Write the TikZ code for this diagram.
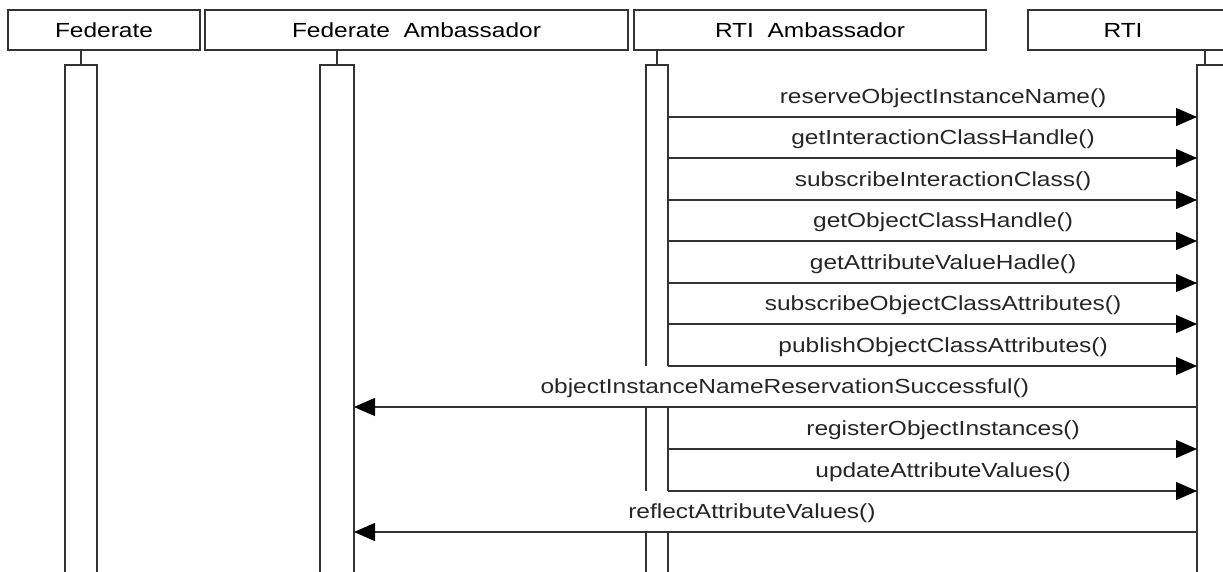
\documentclass[tikz,border=0pt]{standalone}
\usepackage{fontspec}
\setmainfont[FakeStretch=1.2]{Liberation Sans}
\usetikzlibrary{arrows.meta,positioning}

\tikzset{
  lane/.style={line width=1.3pt, draw=black!80},
  hdr/.style={lane, minimum height=40pt, inner sep=0pt},
  msg/.style={lane, -{Triangle[length=21pt,width=18pt,color=black]}},
  lbl/.style={above=7pt, inner sep=2pt, text=black!85},
}

\begin{document}
\begin{tikzpicture}[x=1pt, y=-1pt, font=\fontsize{20.4pt}{24pt}\selectfont]
  \useasboundingbox (0,0) rectangle (1223,571);

  % object headers
  \node[hdr, minimum width=192pt] (fed) at (104,30) {Federate};
  \node[hdr, minimum width=423pt] (fedamb) at (416.5,30) {Federate\ \ Ambassador};
  \node[hdr, minimum width=352pt] (rtiamb) at (810,30) {RTI\ \ Ambassador};
  \draw[lane] (1028,10) rectangle (1240,50);
  \node (rti) at (1123,30) {RTI};

  % activation tops
  \coordinate (fedtop) at (81,65);
  \coordinate (fedambtop) at (337,65);
  \coordinate (rtiambtop) at (657,65);
  \coordinate (rtitop) at (1205,65);
  \draw[lane] (fedtop |- fed.south) -- (fedtop);
  \draw[lane] (fedambtop |- fedamb.south) -- (fedambtop);
  \draw[lane] (rtiambtop |- rtiamb.south) -- (rtiambtop);
  \draw[lane] (rtitop |- 0,50) -- (rtitop);

  % activation edges
  \coordinate (fedambR) at (354,0);
  \coordinate (rtiambR) at (668,0);
  \coordinate (rtiL) at (1197,0);
  \draw[lane] (65,575) -- (65,65) -- (97,65) -- (97,575);
  \draw[lane] (320,575) -- (320,65) -- (354,65) -- (354,575);
  \draw[lane] (646,366) -- (646,65) -- (668,65) -- (668,366);
  \draw[lane] (646,407) -- (646,491) (668,407) -- (668,491);
  \draw[lane] (646,532) -- (646,575) (668,532) -- (668,575);
  \draw[lane] (1240,65) -- (1197,65) -- (1197,575);

  % calls to the RTI
  \foreach \y/\txt in {117/reserveObjectInstanceName(),
                       158/getInteractionClassHandle(),
                       200/subscribeInteractionClass(),
                       241/getObjectClassHandle(),
                       283/getAttributeValueHadle(),
                       324/subscribeObjectClassAttributes(),
                       366/publishObjectClassAttributes(),
                       449/registerObjectInstances(),
                       491/updateAttributeValues()}
    \draw[msg] (rtiambR |- 0,\y) -- node[lbl, pos=.52] {\txt} (rtiL |- 0,\y);

  % callbacks
  \draw[msg] (rtiL |- 0,407) -- node[lbl, pos=.489] {objectInstanceNameReservationSuccessful()} (fedambR |- 0,407);
  \draw[msg] (rtiL |- 0,532) -- node[lbl, pos=.528] {reflectAttributeValues()} (fedambR |- 0,532);
\end{tikzpicture}
\end{document}
